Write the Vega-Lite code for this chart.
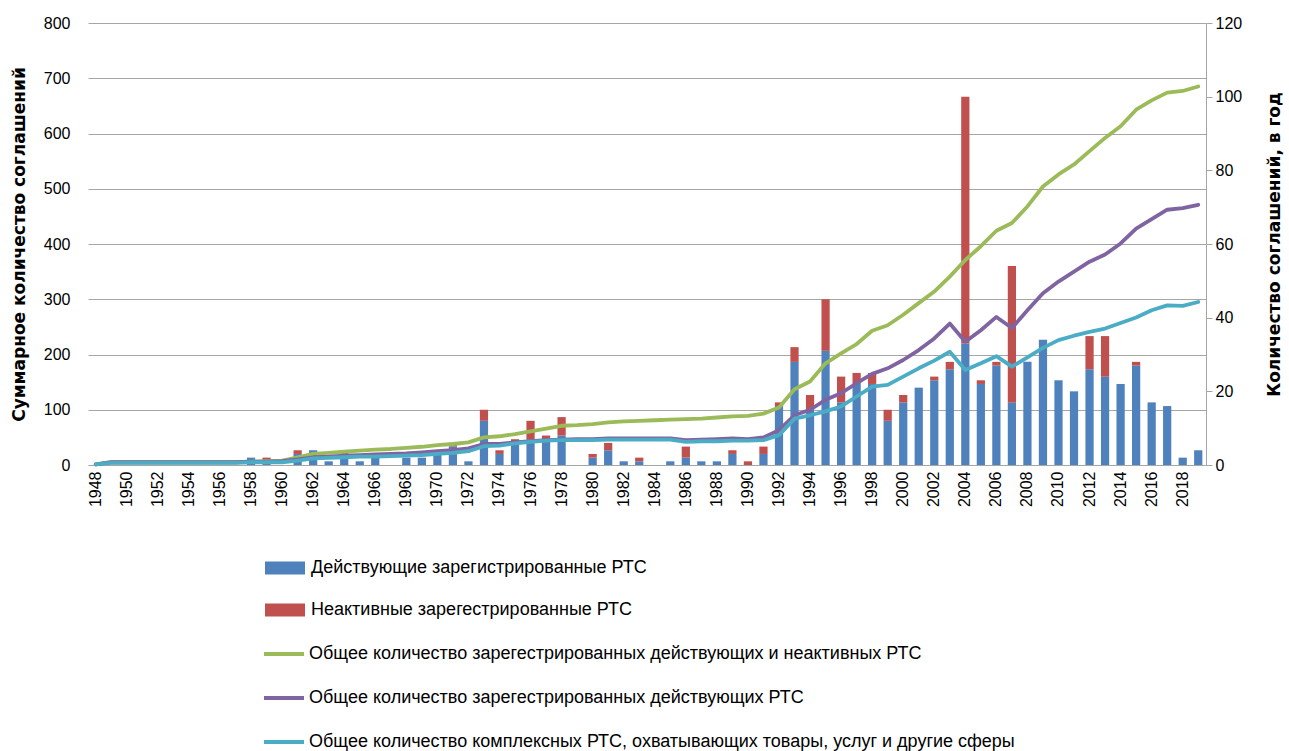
{
  "$schema": "https://vega.github.io/schema/vega-lite/v6.json",
  "width": 1118,
  "height": 442,
  "autosize": {"type": "none"},
  "padding": {"left": 88, "top": 23, "right": 83, "bottom": 286},
  "background": "white",
  "config": {
    "view": {"stroke": null},
    "font": "Liberation Sans",
    "axis": {"labelColor": "#000000", "titleColor": "#000000", "labelFont": "Liberation Sans", "labelFontSize": 16, "titleFont": "DejaVu Sans"}
  },
  "datasets": {
    "bars": [
      {"year": 1948, "a": 0, "i": 0}, {"year": 1949, "a": 0, "i": 0}, {"year": 1950, "a": 0, "i": 0},
      {"year": 1951, "a": 0, "i": 0}, {"year": 1952, "a": 0, "i": 0}, {"year": 1953, "a": 0, "i": 0},
      {"year": 1954, "a": 0, "i": 0}, {"year": 1955, "a": 0, "i": 0}, {"year": 1956, "a": 0, "i": 0},
      {"year": 1957, "a": 0, "i": 0}, {"year": 1958, "a": 2, "i": 0}, {"year": 1959, "a": 1, "i": 1},
      {"year": 1960, "a": 0, "i": 0}, {"year": 1961, "a": 3, "i": 1}, {"year": 1962, "a": 4, "i": 0},
      {"year": 1963, "a": 1, "i": 0}, {"year": 1964, "a": 3, "i": 1}, {"year": 1965, "a": 1, "i": 0},
      {"year": 1966, "a": 2, "i": 0}, {"year": 1967, "a": 0, "i": 0}, {"year": 1968, "a": 2, "i": 0},
      {"year": 1969, "a": 2, "i": 0}, {"year": 1970, "a": 3, "i": 0}, {"year": 1971, "a": 5, "i": 1},
      {"year": 1972, "a": 1, "i": 0}, {"year": 1973, "a": 12, "i": 3}, {"year": 1974, "a": 3, "i": 1},
      {"year": 1975, "a": 6, "i": 1}, {"year": 1976, "a": 7, "i": 5}, {"year": 1977, "a": 7, "i": 1},
      {"year": 1978, "a": 8, "i": 5}, {"year": 1979, "a": 0, "i": 0}, {"year": 1980, "a": 2, "i": 1},
      {"year": 1981, "a": 4, "i": 2}, {"year": 1982, "a": 1, "i": 0}, {"year": 1983, "a": 1, "i": 1},
      {"year": 1984, "a": 0, "i": 0}, {"year": 1985, "a": 1, "i": 0}, {"year": 1986, "a": 2, "i": 3},
      {"year": 1987, "a": 1, "i": 0}, {"year": 1988, "a": 1, "i": 0}, {"year": 1989, "a": 3, "i": 1},
      {"year": 1990, "a": 0, "i": 1}, {"year": 1991, "a": 3, "i": 2}, {"year": 1992, "a": 16, "i": 1},
      {"year": 1993, "a": 28, "i": 4}, {"year": 1994, "a": 15, "i": 4}, {"year": 1995, "a": 31, "i": 14},
      {"year": 1996, "a": 17, "i": 7}, {"year": 1997, "a": 22, "i": 3}, {"year": 1998, "a": 22, "i": 3},
      {"year": 1999, "a": 12, "i": 3}, {"year": 2000, "a": 17, "i": 2}, {"year": 2001, "a": 21, "i": 0},
      {"year": 2002, "a": 23, "i": 1}, {"year": 2003, "a": 26, "i": 2}, {"year": 2004, "a": 33, "i": 67},
      {"year": 2005, "a": 22, "i": 1}, {"year": 2006, "a": 27, "i": 1}, {"year": 2007, "a": 17, "i": 37},
      {"year": 2008, "a": 28, "i": 0}, {"year": 2009, "a": 34, "i": 0}, {"year": 2010, "a": 23, "i": 0},
      {"year": 2011, "a": 20, "i": 0}, {"year": 2012, "a": 26, "i": 9}, {"year": 2013, "a": 24, "i": 11},
      {"year": 2014, "a": 22, "i": 0}, {"year": 2015, "a": 27, "i": 1}, {"year": 2016, "a": 17, "i": 0},
      {"year": 2017, "a": 16, "i": 0}, {"year": 2018, "a": 2, "i": 0}, {"year": 2019, "a": 4, "i": 0}
    ],
    "lines": [
      {"year": 1948, "g": 1, "p": 1, "c": 1}, {"year": 1949, "g": 5, "p": 5, "c": 4},
      {"year": 1950, "g": 5, "p": 5, "c": 4}, {"year": 1951, "g": 5, "p": 5, "c": 4},
      {"year": 1952, "g": 5, "p": 5, "c": 4}, {"year": 1953, "g": 5, "p": 5, "c": 4},
      {"year": 1954, "g": 5, "p": 5, "c": 4}, {"year": 1955, "g": 5, "p": 5, "c": 4},
      {"year": 1956, "g": 5, "p": 5, "c": 4}, {"year": 1957, "g": 5, "p": 5, "c": 4},
      {"year": 1958, "g": 6, "p": 6, "c": 5}, {"year": 1959, "g": 7, "p": 6, "c": 5},
      {"year": 1960, "g": 8, "p": 7, "c": 5}, {"year": 1961, "g": 14, "p": 10, "c": 8},
      {"year": 1962, "g": 20, "p": 14, "c": 12}, {"year": 1963, "g": 22, "p": 15, "c": 13},
      {"year": 1964, "g": 24, "p": 17, "c": 14}, {"year": 1965, "g": 26, "p": 18, "c": 15},
      {"year": 1966, "g": 28, "p": 19, "c": 15}, {"year": 1967, "g": 29, "p": 20, "c": 16},
      {"year": 1968, "g": 31, "p": 21, "c": 17}, {"year": 1969, "g": 33, "p": 23, "c": 18},
      {"year": 1970, "g": 36, "p": 25, "c": 20}, {"year": 1971, "g": 38, "p": 27, "c": 22},
      {"year": 1972, "g": 41, "p": 30, "c": 25}, {"year": 1973, "g": 50, "p": 38, "c": 34},
      {"year": 1974, "g": 52, "p": 38, "c": 35}, {"year": 1975, "g": 56, "p": 41, "c": 39},
      {"year": 1976, "g": 61, "p": 43, "c": 42}, {"year": 1977, "g": 66, "p": 45, "c": 44},
      {"year": 1978, "g": 71, "p": 46, "c": 45}, {"year": 1979, "g": 72, "p": 47, "c": 45},
      {"year": 1980, "g": 74, "p": 47, "c": 45}, {"year": 1981, "g": 77, "p": 48, "c": 46},
      {"year": 1982, "g": 79, "p": 48, "c": 46}, {"year": 1983, "g": 80, "p": 48, "c": 46},
      {"year": 1984, "g": 81, "p": 48, "c": 46}, {"year": 1985, "g": 82, "p": 48, "c": 46},
      {"year": 1986, "g": 83, "p": 45, "c": 42}, {"year": 1987, "g": 84, "p": 46, "c": 43},
      {"year": 1988, "g": 86, "p": 47, "c": 43}, {"year": 1989, "g": 88, "p": 48, "c": 44},
      {"year": 1990, "g": 89, "p": 47, "c": 44}, {"year": 1991, "g": 93, "p": 50, "c": 45},
      {"year": 1992, "g": 104, "p": 63, "c": 54}, {"year": 1993, "g": 137, "p": 90, "c": 84},
      {"year": 1994, "g": 151, "p": 100, "c": 90}, {"year": 1995, "g": 184, "p": 118, "c": 97},
      {"year": 1996, "g": 202, "p": 130, "c": 106}, {"year": 1997, "g": 219, "p": 148, "c": 124},
      {"year": 1998, "g": 243, "p": 165, "c": 142}, {"year": 1999, "g": 253, "p": 175, "c": 145},
      {"year": 2000, "g": 272, "p": 190, "c": 160}, {"year": 2001, "g": 293, "p": 208, "c": 175},
      {"year": 2002, "g": 314, "p": 229, "c": 189}, {"year": 2003, "g": 341, "p": 256, "c": 205},
      {"year": 2004, "g": 371, "p": 223, "c": 172}, {"year": 2005, "g": 396, "p": 244, "c": 184},
      {"year": 2006, "g": 424, "p": 268, "c": 197}, {"year": 2007, "g": 438, "p": 248, "c": 178},
      {"year": 2008, "g": 468, "p": 280, "c": 195}, {"year": 2009, "g": 504, "p": 311, "c": 212},
      {"year": 2010, "g": 526, "p": 332, "c": 226}, {"year": 2011, "g": 544, "p": 350, "c": 234},
      {"year": 2012, "g": 568, "p": 368, "c": 241}, {"year": 2013, "g": 592, "p": 381, "c": 247},
      {"year": 2014, "g": 613, "p": 401, "c": 257}, {"year": 2015, "g": 643, "p": 428, "c": 267},
      {"year": 2016, "g": 660, "p": 445, "c": 280}, {"year": 2017, "g": 674, "p": 462, "c": 289},
      {"year": 2018, "g": 677, "p": 465, "c": 288}, {"year": 2019, "g": 685, "p": 471, "c": 295}
    ]
  },
  "encoding": {
    "x": {
      "field": "year",
      "type": "ordinal",
      "scale": {"type": "band", "paddingInner": 0.47, "paddingOuter": 0.235},
      "axis": {
        "orient": "bottom",
        "title": null,
        "values": [1948, 1950, 1952, 1954, 1956, 1958, 1960, 1962, 1964, 1966, 1968, 1970, 1972, 1974, 1976, 1978, 1980, 1982, 1984, 1986, 1988, 1990, 1992, 1994, 1996, 1998, 2000, 2002, 2004, 2006, 2008, 2010, 2012, 2014, 2016, 2018],
        "labelAngle": 270,
        "labelPadding": 6,
        "ticks": false,
        "domain": true,
        "domainColor": "#a6a6a6",
        "grid": false
      }
    }
  },
  "layer": [
    {
      "data": {"name": "bars"},
      "transform": [{"fold": ["a", "i"], "as": ["kind", "n"]}],
      "mark": {"type": "bar"},
      "encoding": {
        "y": {
          "field": "n",
          "type": "quantitative",
          "stack": "zero",
          "scale": {"domain": [0, 120], "nice": false},
          "axis": {
            "orient": "right",
            "title": "Количество соглашений,  в год",
            "titleAngle": 270,
            "titleFontSize": 17,
            "titleFontWeight": "bold",
            "titlePadding": 42,
            "values": [0, 20, 40, 60, 80, 100, 120],
            "grid": false,
            "domain": true,
            "domainColor": "#a6a6a6",
            "ticks": true,
            "tickColor": "#a6a6a6",
            "tickSize": 6,
            "labelPadding": 3
          }
        },
        "order": {"field": "kind", "type": "nominal", "sort": "ascending"},
        "fill": {
          "field": "kind",
          "type": "nominal",
          "scale": {"domain": ["a", "i"], "range": ["#4F81BD", "#C0504D"]},
          "legend": {
            "orient": "none",
            "legendX": 177,
            "legendY": 525,
            "title": null,
            "symbolType": "M-1,-0.32H1V0.32H-1Z",
            "symbolSize": 1600,
            "symbolStrokeWidth": 0,
            "labelFont": "Liberation Sans",
            "labelFontSize": 18,
            "labelColor": "#000000",
            "labelOffset": 6,
            "labelLimit": 1000,
            "rowPadding": 13,
            "labelExpr": "datum.value == 'a' ? 'Действующие зарегистрированные  РТС' : 'Неактивные зарегестрированные  РТС'"
          }
        }
      }
    },
    {
      "data": {"name": "lines"},
      "transform": [{"fold": ["g", "p", "c"], "as": ["series", "total"]}],
      "mark": {"type": "line", "strokeWidth": 3.8, "strokeCap": "round", "strokeJoin": "round"},
      "encoding": {
        "y": {
          "field": "total",
          "type": "quantitative",
          "scale": {"domain": [0, 800], "nice": false},
          "axis": {
            "orient": "left",
            "title": "Суммарное количество соглашений",
            "titleFontSize": 17,
            "titleFontWeight": "bold",
            "titlePadding": 15,
            "values": [0, 100, 200, 300, 400, 500, 600, 700, 800],
            "grid": true,
            "gridColor": "#a6a6a6",
            "gridWidth": 1,
            "domain": false,
            "ticks": false,
            "labelPadding": 18
          }
        },
        "stroke": {
          "field": "series",
          "type": "nominal",
          "scale": {"domain": ["g", "p", "c"], "range": ["#9BBB59", "#8064A2", "#4BACC6"]},
          "legend": {
            "orient": "none",
            "legendX": 174,
            "legendY": 609,
            "title": null,
            "symbolType": "stroke",
            "symbolSize": 1600,
            "symbolStrokeWidth": 4,
            "labelFont": "Liberation Sans",
            "labelFontSize": 18,
            "labelColor": "#000000",
            "labelOffset": 3,
            "labelLimit": 1000,
            "rowPadding": 13,
            "labelExpr": "datum.value == 'g' ? 'Общее количество зарегестрированных  действующих и неактивных РТС' : datum.value == 'p' ? 'Общее количество зарегестрированных  действующих РТС' : 'Общее количество комплексных РТС, охватывающих товары, услуг и другие сферы'"
          }
        }
      }
    }
  ],
  "resolve": {"scale": {"y": "independent", "fill": "independent", "stroke": "independent"}}
}
